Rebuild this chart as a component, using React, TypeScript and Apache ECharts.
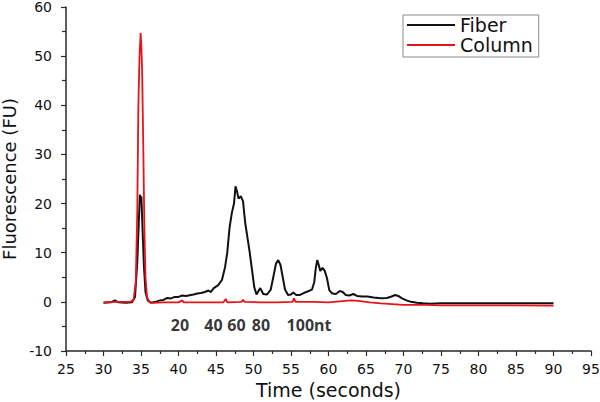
import React, { useEffect, useRef } from "react";
import * as echarts from "echarts";

// Fiber trace (time in seconds, fluorescence in FU)
const fiberTime = [30.0, 31.0, 31.5, 32.0, 33.0, 33.8, 34.2, 34.5, 34.7, 34.85, 34.95, 35.05, 35.2, 35.4, 35.6, 35.9, 36.3, 37.0, 37.5, 38.0, 38.5, 39.0, 39.5, 40.0, 40.5, 41.0, 42.0, 42.5, 43.0, 43.5, 44.0, 44.3, 44.7, 45.3, 45.8, 46.2, 46.5, 46.8, 47.1, 47.4, 47.6, 47.8, 48.0, 48.3, 48.6, 48.9, 49.2, 49.5, 49.8, 50.1, 50.4, 50.9, 51.3, 51.8, 52.3, 52.7, 53.0, 53.3, 53.6, 53.9, 54.2, 54.6, 55.0, 55.3, 55.7, 56.2, 56.7, 57.2, 57.8, 58.1, 58.3, 58.5, 58.7, 58.9, 59.2, 59.5, 59.8, 60.1, 60.5, 61.0, 61.5, 61.9, 62.3, 62.8, 63.3, 63.8, 64.5, 65.2, 66.0, 67.0, 67.8, 68.4, 68.9, 69.3, 69.8, 70.4, 71.0, 71.8, 72.6, 73.5, 75.0, 80.0, 90.0];
const fiberValue = [-0.2, -0.1, 0.3, -0.1, -0.2, -0.1, 1.0, 8, 16, 21.8, 20.5, 21.5, 15, 7, 2, 0.3, -0.2, 0.0, 0.3, 0.4, 0.8, 0.7, 1.0, 1.0, 1.3, 1.2, 1.5, 1.7, 1.8, 2.0, 2.3, 2.0, 2.8, 3.4, 4.5, 7, 10, 15, 18, 20, 23.5, 22.5, 21, 21.5, 20.5, 16, 13, 10, 6.5, 3, 1.5, 2.8, 1.6, 1.5, 2.5, 5.5, 7.8, 8.5, 7.5, 5, 2.5, 1.4, 1.5, 1.9, 1.4, 1.4, 1.8, 2.1, 2.5, 4, 6.8, 8.5, 7.5, 6.3, 6.9, 6.3, 4.8, 2.4, 1.7, 1.6, 2.2, 2.0, 1.4, 1.3, 1.6, 1.2, 1.1, 1.1, 0.9, 0.75, 0.8, 1.1, 1.4, 1.2, 0.7, 0.3, 0.0, -0.2, -0.3, -0.4, -0.3, -0.3, -0.3];

// Column trace
const columnTime = [30.0, 32.0, 33.5, 34.0, 34.3, 34.5, 34.65, 34.8, 34.95, 35.05, 35.15, 35.3, 35.45, 35.6, 35.8, 36.1, 36.6, 38.0, 40.0, 40.5, 40.7, 43.0, 46.0, 46.3, 46.5, 48.4, 48.6, 48.8, 51.0, 53.0, 55.2, 55.4, 55.6, 58.0, 60.0, 61.5, 63.0, 64.0, 65.5, 67.0, 70.0, 73.0, 75.0, 78.0, 90.0];
const columnValue = [-0.1, 0.0, 0.0, 0.3, 4, 18, 40, 50, 54.7, 52, 47, 32, 15, 5, 1, 0.0, -0.2, -0.1, -0.1, 0.3, -0.1, -0.1, -0.1, 0.6, -0.1, 0.0, 0.4, 0.0, -0.1, -0.1, 0.0, 0.7, 0.0, 0.0, -0.1, 0.1, 0.3, 0.2, -0.1, -0.3, -0.6, -0.6, -0.7, -0.7, -0.75];

// Size-marker annotations
const markerLabels = ["20", "40", "60", "80", "100nt"];
const markerTimes = [40.2, 44.67, 47.73, 51.0, 57.4];
const markerLevel = -4.8;

// Axis ticks
const xMin = 25, xMax = 95, xStep = 5;
const yMin = -10, yMax = 60, yStep = 10;

const seriesNames = ["Fiber", "Column"];

export default function App() {
  const ref = useRef<HTMLDivElement>(null);
  useEffect(() => {
    document.body.style.margin = "0";
    if (!ref.current) return;
    const chart = echarts.init(ref.current, null, { renderer: "svg", width: 600, height: 402 });
    const fiber = fiberTime.map((t, i) => [t, fiberValue[i]]);
    const column = columnTime.map((t, i) => [t, columnValue[i]]);
    const markers = markerLabels.map((name, i) => ({ name, value: [markerTimes[i], markerLevel] }));
    const axisColor = "#2a2a2a";
    const font = "DejaVu Sans";
    chart.setOption({
      animation: false,
      backgroundColor: "#ffffff",
      grid: { left: 66, right: 9, top: 7, bottom: 51, containLabel: false, outerBoundsMode: "none" },
      legend: {
        data: seriesNames,
        orient: "vertical",
        left: 403,
        top: 15,
        icon: "rect",
        itemWidth: 48,
        itemHeight: 2,
        itemGap: 0,
        padding: [0, 6, 2, 4],
        borderColor: "#8a8a8a",
        borderWidth: 1,
        textStyle: { fontFamily: font, fontSize: 19, color: "#111", lineHeight: 20 },
      },
      xAxis: {
        type: "value",
        min: xMin,
        max: xMax,
        interval: xStep,
        name: "Time (seconds)",
        nameLocation: "middle",
        nameGap: 29,
        nameTextStyle: { fontFamily: font, fontSize: 19, color: "#111" },
        axisLine: { show: true, onZero: false, lineStyle: { color: axisColor, width: 1.5 } },
        axisTick: { show: true, length: 5, lineStyle: { color: axisColor, width: 1.2 } },
        minorTick: { show: true, splitNumber: 2, length: 3, lineStyle: { color: axisColor, width: 1.2 } },
        axisLabel: { fontFamily: font, fontSize: 14, color: "#111", margin: 11 },
        splitLine: { show: false },
      },
      yAxis: {
        type: "value",
        min: yMin,
        max: yMax,
        interval: yStep,
        name: "Fluorescence (FU)",
        nameLocation: "middle",
        nameGap: 45,
        nameTextStyle: { fontFamily: font, fontSize: 18, color: "#111" },
        axisLine: { show: true, onZero: false, lineStyle: { color: axisColor, width: 1.5 } },
        axisTick: { show: true, length: 5, lineStyle: { color: axisColor, width: 1.2 } },
        minorTick: { show: true, splitNumber: 2, length: 4, lineStyle: { color: axisColor, width: 1.2 } },
        axisLabel: { fontFamily: font, fontSize: 14, color: "#111", margin: 14 },
        splitLine: { show: false },
      },
      series: [
        {
          name: seriesNames[0],
          type: "line",
          data: fiber,
          showSymbol: false,
          symbol: "none",
          lineStyle: { color: "#111111", width: 2 },
          itemStyle: { color: "#111111" },
          z: 2,
        },
        {
          name: seriesNames[1],
          type: "line",
          data: column,
          showSymbol: false,
          symbol: "none",
          lineStyle: { color: "#e8141a", width: 1.8 },
          itemStyle: { color: "#e8141a" },
          z: 3,
        },
        {
          name: "markers",
          type: "scatter",
          data: markers,
          symbolSize: 0,
          silent: true,
          label: {
            show: true,
            position: "inside",
            formatter: (p: any) => p.name,
            fontFamily: "Noto Sans",
            fontWeight: "bold",
            fontSize: 16,
            color: "#000",
          },
          z: 4,
        },
      ],
    });
    return () => chart.dispose();
  }, []);
  return <div ref={ref} style={{ width: 600, height: 402, background: "#fff" }} />;
}
